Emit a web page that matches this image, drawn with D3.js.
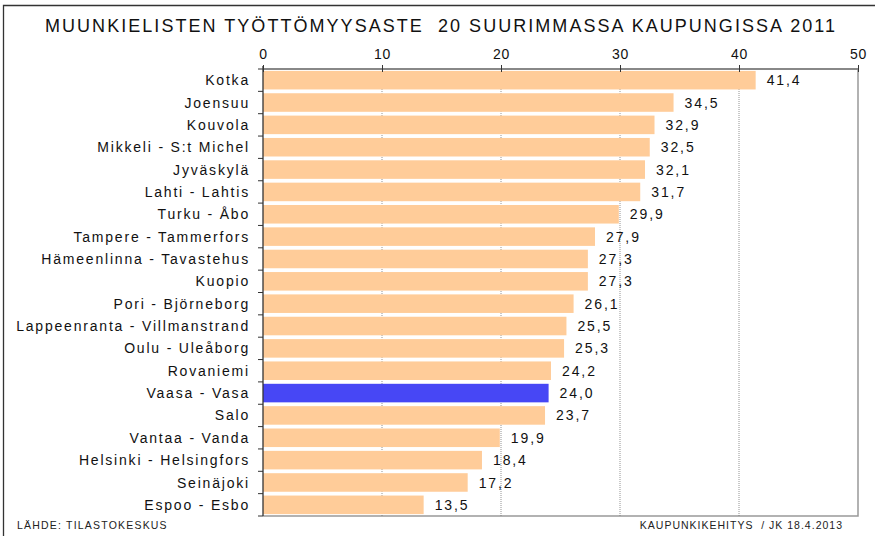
<!DOCTYPE html>
<html>
<head>
<meta charset="utf-8">
<script src="https://cdn.jsdelivr.net/npm/d3@7"></script>
<style>
  body { margin: 0; background: #fff; }
  svg { display: block; font-family: "Liberation Sans", Arial, sans-serif; }
</style>
</head>
<body>
<div id="chart"></div>
<script>
// data
const cities = ["Kotka", "Joensuu", "Kouvola", "Mikkeli - S:t Michel", "Jyväskylä", "Lahti - Lahtis",
  "Turku - Åbo", "Tampere - Tammerfors", "Hämeenlinna - Tavastehus", "Kuopio", "Pori - Björneborg",
  "Lappeenranta - Villmanstrand", "Oulu - Uleåborg", "Rovaniemi", "Vaasa - Vasa", "Salo",
  "Vantaa - Vanda", "Helsinki - Helsingfors", "Seinäjoki", "Espoo - Esbo"];
const rates = [41.4, 34.5, 32.9, 32.5, 32.1, 31.7, 29.9, 27.9, 27.3, 27.3, 26.1, 25.5, 25.3, 24.2, 24.0, 23.7, 19.9, 18.4, 17.2, 13.5];
const highlighted = "Vaasa - Vasa";
const xTicks = [0, 10, 20, 30, 40, 50];

const W = 875, H = 536;
const plot = { left: 263, right: 858, top: 69, bottom: 516 };

const svg = d3.select('#chart').append('svg')
  .attr('width', W).attr('height', H);

// outer frame (top + left visible)
svg.append('path')
  .attr('d', `M3.5,${H} V5.5 H${W}`)
  .attr('fill', 'none').attr('stroke', '#333').attr('stroke-width', 1.3);

svg.append('text')
  .attr('x', 45).attr('y', 32)
  .attr('font-size', 18)
  .attr('fill', '#111')
  .attr('textLength', 790)
  .attr('xml:space', 'preserve')
  .text('MUUNKIELISTEN TYÖTTÖMYYSASTE  20 SUURIMMASSA KAUPUNGISSA 2011');

const xScale = d3.scaleLinear().domain([0, 50]).range([plot.left, plot.right]);
const yScale = d3.scaleBand().domain(cities).range([plot.top, plot.bottom]).paddingInner(0.17).paddingOuter(0.085);

const g = svg.append('g');

// plot frame (right, bottom)
g.append('path')
  .attr('d', `M${plot.right},${plot.top} V${plot.bottom} H${plot.left}`)
  .attr('fill', 'none').attr('stroke', '#999').attr('stroke-width', 1.5);

// gridlines
g.selectAll('.grid')
  .data(xTicks.filter(d => d > 0 && d < 50))
  .enter().append('line')
  .attr('x1', d => xScale(d)).attr('x2', d => xScale(d))
  .attr('y1', plot.top).attr('y2', plot.bottom)
  .attr('stroke', '#777').attr('stroke-width', 0.8).attr('stroke-dasharray', '1 1');

// bars
g.selectAll('.bar')
  .data(cities)
  .enter().append('rect')
  .attr('x', xScale(0))
  .attr('y', d => yScale(d))
  .attr('width', (d, i) => xScale(rates[i]) - xScale(0))
  .attr('height', yScale.bandwidth())
  .attr('fill', d => d === highlighted ? '#4747f5' : '#ffcc99');

// value labels
g.selectAll('.val')
  .data(cities)
  .enter().append('text')
  .attr('x', (d, i) => xScale(rates[i]) + 11)
  .attr('y', d => yScale(d) + yScale.bandwidth() / 2)
  .attr('dy', '0.36em')
  .attr('font-size', 14)
  .attr('letter-spacing', 1.9)
  .attr('fill', '#111')
  .text((d, i) => rates[i].toFixed(1).replace('.', ','));

// top axis
const xAxis = d3.axisTop(xScale).tickValues(xTicks).tickSize(4).tickPadding(6);
const xAxisGroup = g.append('g').attr('transform', `translate(0,${plot.top})`).call(xAxis);
xAxisGroup.select('.domain').attr('stroke', '#888').attr('stroke-width', 2.2).attr('d', `M${plot.left},0H${plot.right}`);
xAxisGroup.selectAll('.tick line').attr('stroke', '#333').attr('y1', 3);
xAxisGroup.selectAll('.tick text').attr('font-size', 14).attr('letter-spacing', 0.6).attr('fill', '#111').attr('font-family', null);

// left axis with ticks at category boundaries
const yAxisGroup = g.append('g').attr('transform', `translate(${plot.left},0)`);
yAxisGroup.append('line')
  .attr('y1', plot.top - 3).attr('y2', plot.bottom)
  .attr('stroke', '#333').attr('stroke-width', 1.3);
yAxisGroup.selectAll('.btick')
  .data(d3.range(cities.length + 1))
  .enter().append('line')
  .attr('x1', -5).attr('x2', 0)
  .attr('y1', i => plot.top + i * (plot.bottom - plot.top) / cities.length)
  .attr('y2', i => plot.top + i * (plot.bottom - plot.top) / cities.length)
  .attr('stroke', '#333');
yAxisGroup.selectAll('.lab')
  .data(cities)
  .enter().append('text')
  .attr('x', -13)
  .attr('y', d => yScale(d) + yScale.bandwidth() / 2)
  .attr('dy', '0.36em')
  .attr('text-anchor', 'end')
  .attr('font-size', 14)
  .attr('letter-spacing', 1.8)
  .attr('fill', '#111')
  .text(d => d);

// footers
svg.append('text').attr('x', 17).attr('y', 529).attr('font-size', 10.5).attr('letter-spacing', 1.2).attr('fill', '#222')
  .text('LÄHDE: TILASTOKESKUS');
svg.append('text').attr('x', 843).attr('y', 529).attr('text-anchor', 'end').attr('font-size', 10.5).attr('letter-spacing', 1)
  .attr('fill', '#222')
  .attr('xml:space', 'preserve')
  .text('KAUPUNKIKEHITYS  / JK 18.4.2013');
</script>
</body>
</html>
